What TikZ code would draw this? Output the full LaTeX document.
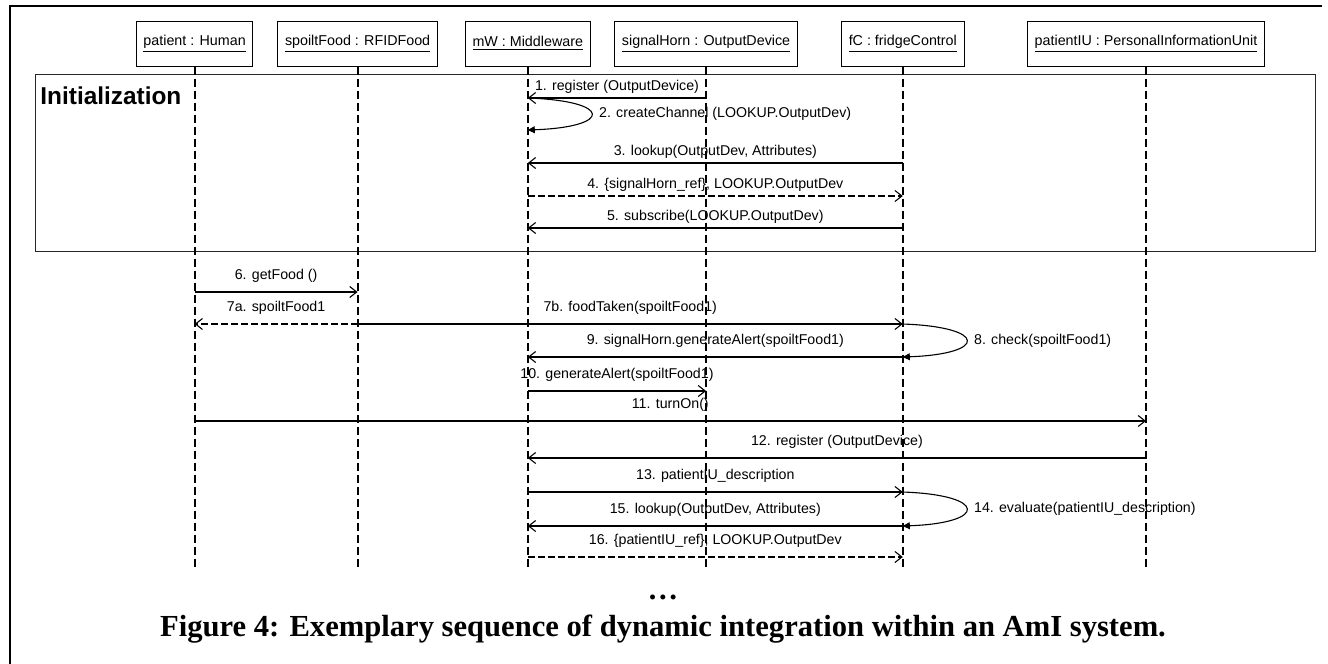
\documentclass[tikz,border=0pt]{standalone}
\usepackage{fontspec}
\setmainfont{Liberation Serif}
\newfontfamily\arial{Liberation Sans}
\usetikzlibrary{arrows.meta}

\begin{document}
\begin{tikzpicture}[x=0.5pt, y=-0.5pt,
	obj/.style = {draw,
		line width = 0.5pt,
		minimum height = 22.5pt,
		inner xsep = 3.6pt,
		font = \arial\fontsize{7.15}{8.6}\selectfont},
	lifeline/.style = {line width = 1pt, dash pattern = on 4pt off 2pt},
	msg/.style = {line width = 0.55pt, -{Straight Barb[length=3.5pt, width=5.5pt]}},
	reply/.style = {msg, dash pattern = on 3.5pt off 1.5pt},
	self/.style = {line width = 0.55pt, -{Triangle[length=3.5pt, width=3.5pt]}},
	lbl/.style = {font = \arial\fontsize{7.1}{8.5}\selectfont, inner sep = 0pt, anchor = base, yshift = 3.6pt},
	lbllow/.style = {lbl, yshift = 2.5pt},
	loopl/.style = {font = \arial\fontsize{7.1}{8.5}\selectfont, inner sep = 0pt, pos = 0.5, anchor = west, xshift = 3.5pt}]

	\useasboundingbox (0,0) rectangle (1328,664);
	\draw[line width = 1pt] (1322,6) -- (10,6) -- (10,664);

	% objects
	\node (patient) [obj] at (194.6,43.5) {\underline{patient : Human}};
	\node (food) [obj] at (357.6,43.5) {\underline{spoiltFood : RFIDFood}};
	\node (mw) [obj] at (527.8,43.5) {\underline{mW : Middleware}};
	\node (horn) [obj] at (706.1,43.5) {\underline{signalHorn : OutputDevice}};
	\node (fc) [obj] at (902.8,43.5) {\underline{fC : fridgeControl}};
	\node (piu) [obj] at (1146,43.5) {\underline{patientIU : PersonalInformationUnit}};

	% initialization frame
	\draw[line width = 0.5pt, black!85] (35,74) rectangle (1315.5,251.5);
	\node (init) [font = \arial\bfseries\fontsize{12.2}{14}\selectfont, anchor = west, inner sep = 0pt] at (40,95.5) {Initialization};

	% lifelines
	\draw[lifeline] (patient.south) -- (patient.south |- 0,570);
	\draw[lifeline] (food.south) -- (food.south |- 0,570);
	\draw[lifeline] (mw.south) -- (mw.south |- 0,570);
	\draw[lifeline] (horn.south) -- (horn.south |- 0,570);
	\draw[lifeline] (fc.south) -- (fc.south |- 0,570);
	\draw[lifeline] (piu.south) -- (piu.south |- 0,570);

	% messages
	\draw[msg] (horn |- 0,98) -- node[lbl] {1. register (OutputDevice)} (mw |- 0,98);
	\draw[self] (mw |- 0,98) .. controls +(85,3) and +(85,-3) .. node[loopl] {2. createChannel (LOOKUP.OutputDev)} (mw |- 0,130);
	\draw[msg] (fc |- 0,163) -- node[lbl] {3. lookup(OutputDev, Attributes)} (mw |- 0,163);
	\draw[reply] (mw |- 0,196) -- node[lbl] {4. \{signalHorn\_ref\}, LOOKUP.OutputDev} (fc |- 0,196);
	\draw[msg] (fc |- 0,228) -- node[lbl] {5. subscribe(LOOKUP.OutputDev)} (mw |- 0,228);

	\draw[msg] (patient |- 0,292) -- node[lbllow] {6. getFood ()} (food |- 0,292);
	\draw[reply] (food |- 0,324) -- node[lbllow] {7a. spoiltFood1} (patient |- 0,324);
	\draw[msg] (food |- 0,324) -- node[lbllow] {7b. foodTaken(spoiltFood1)} (fc |- 0,324);
	\draw[self] (fc |- 0,324) .. controls +(85,3) and +(85,-3) .. node[loopl] {8. check(spoiltFood1)} (fc |- 0,357);
	\draw[msg] (fc |- 0,357) -- node[lbllow] {9. signalHorn.generateAlert(spoiltFood1)} (mw |- 0,357);
	\draw[msg] (mw |- 0,391) -- node[lbllow] {10. generateAlert(spoiltFood1)} (horn |- 0,391);
	\draw[msg] (patient |- 0,421) -- node[lbllow] {11. turnOn()} (piu |- 0,421);
	\draw[msg] (piu |- 0,458) -- node[lbllow] {12. register (OutputDevice)} (mw |- 0,458);
	\draw[msg] (mw |- 0,492) -- node[lbllow] {13. patientIU\_description} (fc |- 0,492);
	\draw[self] (fc |- 0,492) .. controls +(85,3) and +(85,-3) .. node[loopl] {14. evaluate(patientIU\_description)} (fc |- 0,526);
	\draw[msg] (fc |- 0,526) -- node[lbllow] {15. lookup(OutputDev, Attributes)} (mw |- 0,526);
	\draw[reply] (mw |- 0,557) -- node[lbllow] {16. \{patientIU\_ref\}, LOOKUP.OutputDev} (fc |- 0,557);

	% caption
	\node (dots) [font = \bfseries\fontsize{15.3}{18}\selectfont] at (663,597) {…};
	\node (caption) [font = \bfseries\fontsize{15.3}{18}\selectfont] at (663,629) {Figure 4: Exemplary sequence of dynamic integration within an AmI system.};
\end{tikzpicture}
\end{document}
